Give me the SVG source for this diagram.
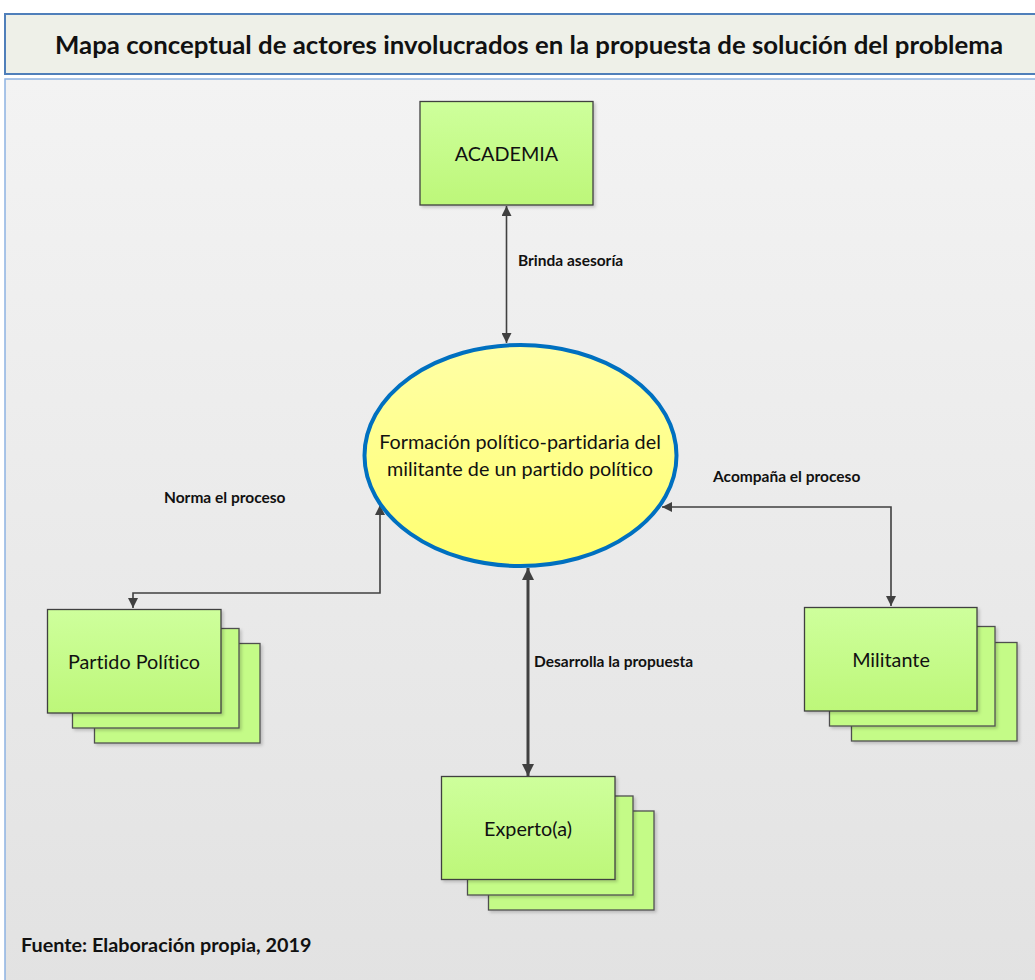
<svg xmlns="http://www.w3.org/2000/svg" width="1035" height="980" viewBox="0 0 1035 980">
<defs>
<linearGradient id="bg" x1="0" y1="0" x2="0" y2="1">
<stop offset="0" stop-color="#f3f3f3"/>
<stop offset="1" stop-color="#e2e2e2"/>
</linearGradient>
<linearGradient id="gbox" x1="0" y1="0" x2="0" y2="1">
<stop offset="0" stop-color="#ceff9c"/>
<stop offset="1" stop-color="#bdf779"/>
</linearGradient>
<linearGradient id="gell" x1="0" y1="0" x2="0" y2="1">
<stop offset="0" stop-color="#ffffa6"/>
<stop offset="1" stop-color="#ffff70"/>
</linearGradient>
<filter id="sh" x="-10%" y="-10%" width="130%" height="130%">
<feDropShadow dx="2" dy="2" stdDeviation="1.5" flood-color="#000" flood-opacity="0.18"/>
</filter>
<marker id="ah" viewBox="0 0 10 10" refX="10" refY="5" markerWidth="10" markerHeight="10" markerUnits="userSpaceOnUse" orient="auto-start-reverse">
<path d="M0,0 L10,5 L0,10 Z" fill="#404040"/>
</marker>
<marker id="ahb" viewBox="0 0 10 10" refX="10" refY="5" markerWidth="12" markerHeight="12" markerUnits="userSpaceOnUse" orient="auto-start-reverse">
<path d="M0,0 L10,5 L0,10 Z" fill="#404040"/>
</marker>
</defs>
<style>
text{font-variant-ligatures:none;font-feature-settings:"liga" 0}
.box{fill:url(#gbox);stroke:#404040;stroke-width:1.3;filter:url(#sh)}
.back{fill:#c4fb87;stroke:#505050;stroke-width:1.3;filter:url(#sh)}
.lbl{font-family:Lato,"Liberation Sans",sans-serif;font-size:19.8px;fill:#111;text-anchor:middle}
.edge{font-family:Lato,"Liberation Sans",sans-serif;font-size:15.5px;font-weight:bold;fill:#111}
.con{fill:none;stroke:#404040;stroke-width:1.6}
</style>
<rect width="1035" height="980" fill="#ffffff"/>
<g id="title">
<rect x="5" y="14" width="1040" height="60" fill="#eef0e8" stroke="#4f7fba" stroke-width="2"/>
<text x="529" y="54" font-family="Lato,'Liberation Sans',sans-serif" font-size="25.6" font-weight="bold" fill="#111" text-anchor="middle" textLength="948" lengthAdjust="spacingAndGlyphs">Mapa conceptual de actores involucrados en la propuesta de solución del problema</text>
</g>
<g id="panel">
<rect x="5" y="79" width="1040" height="910" fill="url(#bg)" stroke="#8db3e2" stroke-width="1.5"/>
</g>
<g id="connectors">
<line class="con" x1="506.5" y1="206" x2="506.5" y2="343" marker-start="url(#ah)" marker-end="url(#ah)"/>
<polyline class="con" points="380,505 380,593 133,593 133,608" marker-start="url(#ah)" marker-end="url(#ah)"/>
<polyline class="con" points="662,507 891,507 891,606" marker-start="url(#ah)" marker-end="url(#ah)"/>
<line x1="528" y1="568" x2="528" y2="776" stroke="#404040" stroke-width="3" marker-start="url(#ahb)" marker-end="url(#ahb)"/>
<text class="edge" x="518" y="266">Brinda asesoría</text>
<text class="edge" x="164" y="503">Norma el proceso</text>
<text class="edge" x="713" y="482">Acompaña el proceso</text>
<text class="edge" x="534" y="667">Desarrolla la propuesta</text>
</g>
<g id="academia">
<rect class="box" x="420" y="101.5" width="173" height="103.5"/>
<text class="lbl" x="506.5" y="161">ACADEMIA</text>
</g>
<g id="formacion">
<ellipse cx="520.5" cy="455.5" rx="156" ry="110.5" fill="url(#gell)" stroke="#0070c0" stroke-width="4"/>
<text class="lbl" x="520" y="449">Formación político-partidaria del</text>
<text class="lbl" x="520" y="476">militante de un partido político</text>
</g>
<g id="partido">
<rect class="back" x="94.5" y="643.5" width="165.5" height="99.5"/>
<rect class="back" x="72.5" y="628.5" width="166.5" height="99.5"/>
<rect class="box" x="47.5" y="609.5" width="173.5" height="103.5"/>
<text class="lbl" x="134" y="669">Partido Político</text>
</g>
<g id="militante">
<rect class="back" x="851.5" y="642.5" width="165.5" height="98.5"/>
<rect class="back" x="829.5" y="626.5" width="165.5" height="99.5"/>
<rect class="box" x="804.5" y="607.5" width="172.5" height="103.5"/>
<text class="lbl" x="891" y="667">Militante</text>
</g>
<g id="experto">
<rect class="back" x="488.5" y="811" width="165.5" height="99"/>
<rect class="back" x="467.5" y="796" width="165.5" height="99"/>
<rect class="box" x="441.5" y="776.5" width="173.5" height="103"/>
<text class="lbl" x="528" y="836">Experto(a)</text>
</g>
<g id="fuente">
<text x="21" y="952" font-family="Lato,'Liberation Sans',sans-serif" font-size="19.8" font-weight="bold" fill="#111">Fuente: Elaboración propia, 2019</text>
</g>
</svg>
